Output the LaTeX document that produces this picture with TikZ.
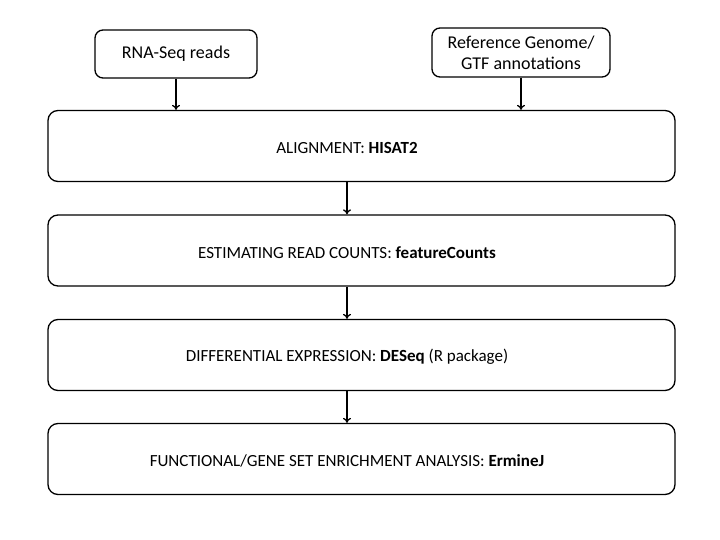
\documentclass[tikz,border=0pt]{standalone}
\usepackage{fontspec}
\setmainfont{Carlito}
\usetikzlibrary{positioning, arrows.meta}

\begin{document}
\begin{tikzpicture}[x=1pt, y=-1pt,
  inbox/.style={draw, line width=1.3pt, rounded corners=8pt, align=center, font=\fontsize{18}{21}\selectfont},
  stagebox/.style={draw, line width=1.3pt, rounded corners=10pt, minimum width=627pt, minimum height=71pt},
  stagetext/.style={font=\fontsize{17}{20}\selectfont},
  flow/.style={line width=1.3pt, -{To[length=5pt, width=8pt]}}]
\useasboundingbox (0,0) rectangle (720,540);

% Input boxes
\node[inbox, minimum width=162pt, minimum height=48pt] (reads) at (176,54) {RNA-Seq reads};
\node[inbox, minimum width=178pt, minimum height=49pt] (genome) at (521,52.5) {Reference Genome/\\GTF annotations};

% Pipeline stages (boxes)
\node[stagebox] (align) at (361.5,146) {};
\node[stagebox] (count) at (361.5,250.5) {};
\node[stagebox] (diffexp) at (361.5,355) {};
\node[stagebox] (enrich) at (361.5,459) {};

% Pipeline stages (labels)
\node[stagetext] (alignlbl) at (347,148) {ALIGNMENT: \textbf{HISAT2}};
\node[stagetext] (countlbl) at (347,252.5) {ESTIMATING READ COUNTS: \textbf{featureCounts}};
\node[stagetext] (diffexplbl) at (347,357) {DIFFERENTIAL EXPRESSION: \textbf{DESeq} (R package)};
\node[stagetext] (enrichlbl) at (347,461) {FUNCTIONAL/GENE SET ENRICHMENT ANALYSIS: \textbf{ErmineJ}};

% Arrows
\draw[flow] (reads.south) -- (reads.south |- align.north);
\draw[flow] (genome.south) -- (genome.south |- align.north);
\draw[flow] (alignlbl |- align.south) -- (alignlbl |- count.north);
\draw[flow] (countlbl |- count.south) -- (countlbl |- diffexp.north);
\draw[flow] (diffexplbl |- diffexp.south) -- (diffexplbl |- enrich.north);

\end{tikzpicture}
\end{document}
